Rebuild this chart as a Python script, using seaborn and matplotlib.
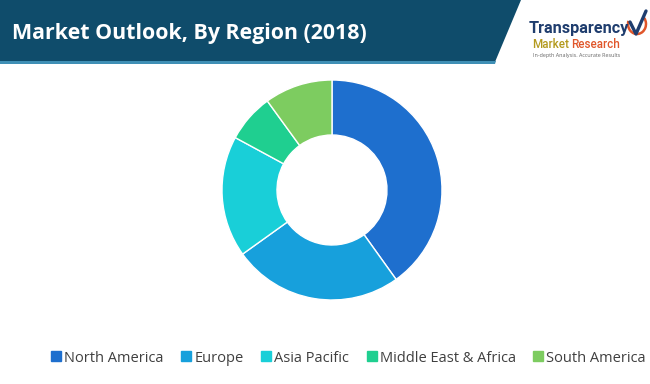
import matplotlib
matplotlib.use("Agg")
import matplotlib.pyplot as plt
import seaborn as sns
from matplotlib.patches import Polygon, Arc
from matplotlib.lines import Line2D

regions = ["North America", "Europe", "Asia Pacific", "Middle East & Africa", "South America"]
shares = [40.1, 25.0, 17.8, 7.1, 10.0]
colors = ["#1e6fce", "#17a0dc", "#19cfd8", "#1fcf90", "#7dcc60"]
title = "Market Outlook, By Region (2018)"

sns.set_theme(style="white")
plt.rcParams['font.family'] = ['Open Sans', 'DejaVu Sans']

fig = plt.figure(figsize=(6.5, 3.84), dpi=100)
W, H = 650, 384

# Header bar
bg = fig.add_axes([0, 0, 1, 1])
bg.set_xlim(0, W)
bg.set_ylim(H, 0)
bg.axis("off")
bg.add_patch(Polygon([[0, 0], [521, 0], [495, 62], [0, 62]], closed=True,
                     facecolor="#0f4c6b", edgecolor="none"))
bg.add_patch(Polygon([[0, 61], [496, 61], [495, 64], [0, 64]], closed=True,
                     facecolor="#3f8fb5", edgecolor="none"))
bg.text(12, 33, title, color="white", fontsize=15.4, fontweight="bold",
        va="center", ha="left")

# Logo text
bg.text(529, 29, "Transparency", color="#1f3d6e", fontsize=11.7, fontweight="bold",
        va="center", ha="left", family=["Roboto", "DejaVu Sans"])
bg.text(532, 44, "Market", color="#b39a1e", fontsize=8.4, fontweight="medium",
        va="center", ha="left", family=["Roboto", "DejaVu Sans"])
bg.text(571, 44, "Research", color="#e0562a", fontsize=8.4, fontweight="medium",
        va="center", ha="left", family=["Roboto", "DejaVu Sans"])
bg.text(533, 55, "In-depth Analysis. Accurate Results", color="#666666", fontsize=3.9,
        va="center", ha="left")
bg.add_patch(Arc((637, 24), 18, 20, theta1=-40, theta2=200, color="#e0562a", lw=1.8))
bg.plot([630, 636, 646], [22, 34, 11], color="#1f3d6e", lw=2.4, solid_capstyle="round")

# Donut
cx, cy, r = 332, 190, 110
ax = fig.add_axes([(cx - r) / W, (H - cy - r) / H, 2 * r / W, 2 * r / H])
ax.pie(shares, colors=colors, startangle=90, counterclock=False, radius=1,
       wedgeprops=dict(width=0.5, edgecolor="white", linewidth=1))
ax.set_xlim(-1, 1)
ax.set_ylim(-1, 1)
ax.set_aspect("equal")
ax.axis("off")

# Legend
handles = [Line2D([0], [0], marker="s", linestyle="none", markersize=6.5,
                  markerfacecolor=c, markeredgecolor=c) for c in colors]
fig.legend(handles, regions, loc="center", bbox_to_anchor=(347.5 / W, 1 - 358 / H),
           ncol=5, frameon=False, fontsize=10.5, handletextpad=0.05,
           columnspacing=1.05, labelcolor="#404040", handlelength=1.0)

fig.savefig("out.png", dpi=100)
